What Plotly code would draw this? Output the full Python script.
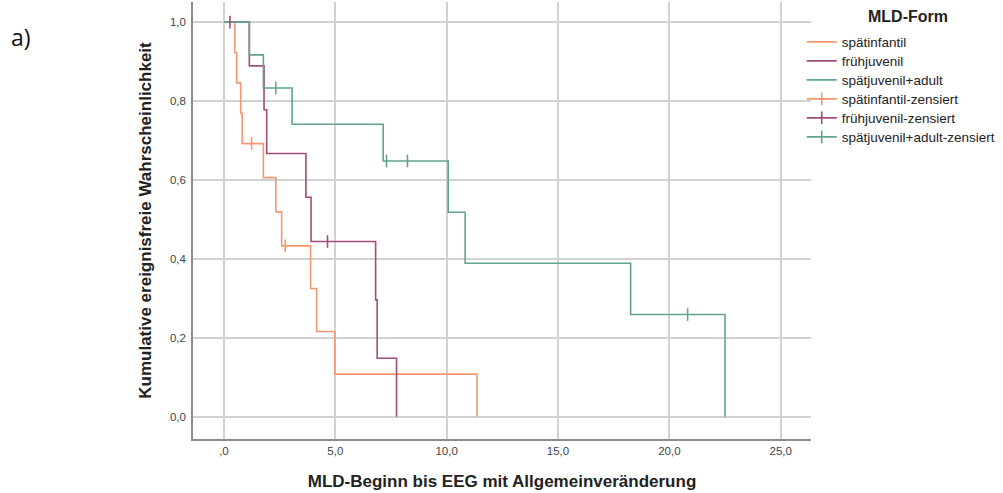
import plotly.graph_objects as go

# ---- data ----
groups = ["spätinfantil", "frühjuvenil", "spätjuvenil+adult"]

t_spaetinf = [0, 0.49, 0.57, 0.75, 0.82, 1.77, 2.33, 2.59, 3.89, 4.16, 4.98, 11.36]
s_spaetinf = [1.0, 0.923, 0.846, 0.769, 0.692, 0.606, 0.519, 0.433, 0.325, 0.216, 0.108, 0.0]
ct_spaetinf = [1.24, 2.75]
cs_spaetinf = [0.692, 0.433]

t_fruehjuv = [0, 1.14, 1.80, 1.92, 3.68, 3.91, 6.81, 6.88, 7.75]
s_fruehjuv = [1.0, 0.889, 0.778, 0.667, 0.556, 0.444, 0.296, 0.148, 0.0]
ct_fruehjuv = [0.27, 4.65]
cs_fruehjuv = [1.0, 0.444]

t_spaetjuv = [0, 1.14, 1.77, 3.06, 7.15, 10.07, 10.83, 18.26, 22.50]
s_spaetjuv = [1.0, 0.917, 0.833, 0.741, 0.648, 0.518, 0.389, 0.259, 0.0]
ct_spaetjuv = [2.33, 7.30, 8.24, 20.82]
cs_spaetjuv = [0.833, 0.648, 0.648, 0.259]

x_ticks = [0, 5, 10, 15, 20, 25]
x_ticktext = [",0", "5,0", "10,0", "15,0", "20,0", "25,0"]
y_ticks = [0, 0.2, 0.4, 0.6, 0.8, 1.0]
y_ticktext = ["0,0", "0,2", "0,4", "0,6", "0,8", "1,0"]

colors = ["#F5976F", "#A04D7E", "#62A391"]

curves = [(t_spaetinf, s_spaetinf), (t_fruehjuv, s_fruehjuv), (t_spaetjuv, s_spaetjuv)]
censors = [(ct_spaetinf, cs_spaetinf), (ct_fruehjuv, cs_fruehjuv), (ct_spaetjuv, cs_spaetjuv)]

FONT = "Liberation Sans, Arial, sans-serif"


def isolated(vals):
    # separate points with gaps so no connecting line is drawn,
    # while the legend still shows a line + tick (cross)
    out = []
    for v in vals:
        out += [v, None]
    return out


def lname(txt):
    return "<span style='font-size:13.5px'>" + txt + "</span>"


fig = go.Figure()
for name, (t, s), c in zip(groups, curves, colors):
    fig.add_trace(go.Scatter(x=t, y=s, mode="lines", name=lname(name),
                             line=dict(color=c, width=1.6, shape="hv")))
for name, (t, s), c in zip(groups, censors, colors):
    fig.add_trace(go.Scatter(x=isolated(t), y=isolated(s), mode="lines+markers",
                             name=lname(name + "-zensiert"), connectgaps=False,
                             line=dict(color=c, width=1.6),
                             marker=dict(symbol="line-ns", size=9, color=c,
                                         line=dict(color=c, width=1.6))))

fig.update_layout(
    width=1003, height=493,
    margin=dict(l=193, r=192, t=2, b=54),
    paper_bgcolor="white", plot_bgcolor="white",
    font=dict(family=FONT, color="#333333", size=11),
    showlegend=True,
    legend=dict(
        x=0.985, xanchor="left", y=0.942, yanchor="top",
        bgcolor="rgba(0,0,0,0)",
        font=dict(family=FONT, size=12, color="#222222"),
        itemwidth=30, tracegroupgap=0,
    ),
    annotations=[
        dict(text="a)", xref="paper", yref="paper", x=-0.298, y=0.92,
             xanchor="left", yanchor="middle", showarrow=False,
             font=dict(family="Open Sans, sans-serif", size=23, color="#111111")),
        dict(text="<b>MLD-Form</b>", xref="paper", yref="paper", x=1.157, y=0.966,
             xanchor="center", yanchor="middle", showarrow=False,
             font=dict(family=FONT, size=16, color="#222222")),
    ],
)

fig.update_xaxes(
    range=[-1.39, 26.36], tickvals=x_ticks, ticktext=x_ticktext,
    showgrid=True, gridcolor="#d2d2d2", gridwidth=1.5, zeroline=False,
    showline=True, linecolor="#8c8c8c", linewidth=1.5,
    ticks="", ticklabelstandoff=0,
    tickfont=dict(family=FONT, size=11.5, color="#444444"),
    title=dict(text="<b>MLD-Beginn bis EEG mit Allgemeinveränderung</b>", standoff=20,
               font=dict(family=FONT, size=17, color="#222222")),
)
fig.update_yaxes(
    range=[-0.0565, 1.051], tickvals=y_ticks, ticktext=y_ticktext,
    showgrid=True, gridcolor="#d2d2d2", gridwidth=1.5, zeroline=False,
    showline=True, linecolor="#8c8c8c", linewidth=1.5,
    ticks="", ticklabelstandoff=3,
    tickfont=dict(family=FONT, size=11.5, color="#444444"),
    title=dict(text="<b>Kumulative ereignisfreie Wahrscheinlichkeit</b>", standoff=14,
               font=dict(family=FONT, size=17, color="#222222")),
)

fig.write_html("out.html")
